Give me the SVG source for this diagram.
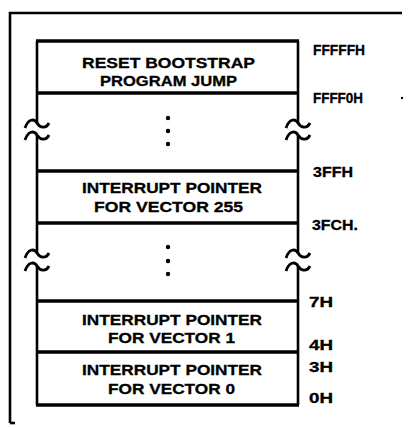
<svg xmlns="http://www.w3.org/2000/svg" width="410" height="427" viewBox="0 0 410 427">
<defs>
<style>
.ln{stroke:#000;fill:none;stroke-width:2.6}
.sep{stroke:#000;stroke-width:3.5}
.t{font-family:"Liberation Sans",Arial,sans-serif;font-weight:bold;font-size:15px;fill:#000;stroke:#000;stroke-width:0.3}
.a{font-family:"Liberation Sans",Arial,sans-serif;font-weight:bold;font-size:14px;fill:#000;stroke:#000;stroke-width:0.3}
.dot{fill:#000}
</style>
<path id="tilde" d="M-12,5 C-9,-4 -3,-5 0,0 C3,5 9,6 12,0" stroke="#000" stroke-width="2.8" fill="none"/>
</defs>
<rect width="410" height="427" fill="#fff"/>
<g id="frame">
<path class="ln" d="M10,423 L10,13 L402,13"/>
<path class="ln" d="M10,423 L15,423"/>
<circle cx="402" cy="98" r="1.2" class="dot"/>
</g>
<g id="connectors">
<path class="ln" d="M37,41 V123 M37,135 V253 M37,266 V405"/>
<path class="ln" d="M298,41 V123 M298,135 V253 M298,266 V405"/>
<use href="#tilde" x="37" y="123"/>
<use href="#tilde" x="37" y="135"/>
<use href="#tilde" x="298" y="123"/>
<use href="#tilde" x="298" y="135"/>
<use href="#tilde" x="37" y="253"/>
<use href="#tilde" x="37" y="266"/>
<use href="#tilde" x="298" y="253"/>
<use href="#tilde" x="298" y="266"/>
</g>
<g id="reset">
<line x1="36" y1="41" x2="299" y2="41" class="sep" stroke-width="2.8"/>
<line x1="36" y1="93" x2="299" y2="93" class="sep"/>
<text class="t" x="82" y="68" textLength="173" lengthAdjust="spacingAndGlyphs">RESET BOOTSTRAP</text>
<text class="t" x="100" y="86" textLength="137" lengthAdjust="spacingAndGlyphs">PROGRAM JUMP</text>
</g>
<g id="gap1">
<circle cx="168" cy="118" r="2.2" class="dot"/>
<circle cx="168" cy="131" r="2.2" class="dot"/>
<circle cx="168" cy="144" r="2.2" class="dot"/>
</g>
<g id="vector255">
<line x1="36" y1="171" x2="299" y2="171" class="sep"/>
<line x1="36" y1="223" x2="299" y2="223" class="sep"/>
<text class="t" x="82" y="193" textLength="180" lengthAdjust="spacingAndGlyphs">INTERRUPT POINTER</text>
<text class="t" x="94" y="212" textLength="149" lengthAdjust="spacingAndGlyphs">FOR VECTOR 255</text>
</g>
<g id="gap2">
<circle cx="168" cy="247" r="2.2" class="dot"/>
<circle cx="168" cy="261" r="2.2" class="dot"/>
<circle cx="168" cy="274" r="2.2" class="dot"/>
</g>
<g id="vector1">
<line x1="36" y1="301" x2="299" y2="301" class="sep" stroke-width="3"/>
<line x1="36" y1="352" x2="299" y2="352" class="sep" stroke-width="5"/>
<text class="t" x="82" y="325" textLength="180" lengthAdjust="spacingAndGlyphs">INTERRUPT POINTER</text>
<text class="t" x="108" y="343" textLength="127" lengthAdjust="spacingAndGlyphs">FOR VECTOR 1</text>
</g>
<g id="vector0">
<line x1="36" y1="405" x2="299" y2="405" class="sep" stroke-width="3"/>
<text class="t" x="82" y="375" textLength="180" lengthAdjust="spacingAndGlyphs">INTERRUPT POINTER</text>
<text class="t" x="108" y="394" textLength="127" lengthAdjust="spacingAndGlyphs">FOR VECTOR 0</text>
</g>
<g id="addresses">
<text class="a" x="313" y="55" textLength="52" lengthAdjust="spacingAndGlyphs">FFFFFH</text>
<text class="a" x="313" y="103" textLength="50" lengthAdjust="spacingAndGlyphs">FFFF0H</text>
<text class="a" x="313" y="177" textLength="40" lengthAdjust="spacingAndGlyphs">3FFH</text>
<text class="a" x="312" y="230" textLength="46" lengthAdjust="spacingAndGlyphs">3FCH.</text>
<text class="a" x="309" y="307" textLength="24" lengthAdjust="spacingAndGlyphs">7H</text>
<text class="a" x="309" y="350" textLength="24" lengthAdjust="spacingAndGlyphs">4H</text>
<text class="a" x="309" y="372" textLength="24" lengthAdjust="spacingAndGlyphs">3H</text>
<text class="a" x="309" y="403" textLength="24" lengthAdjust="spacingAndGlyphs">0H</text>
</g>
</svg>
